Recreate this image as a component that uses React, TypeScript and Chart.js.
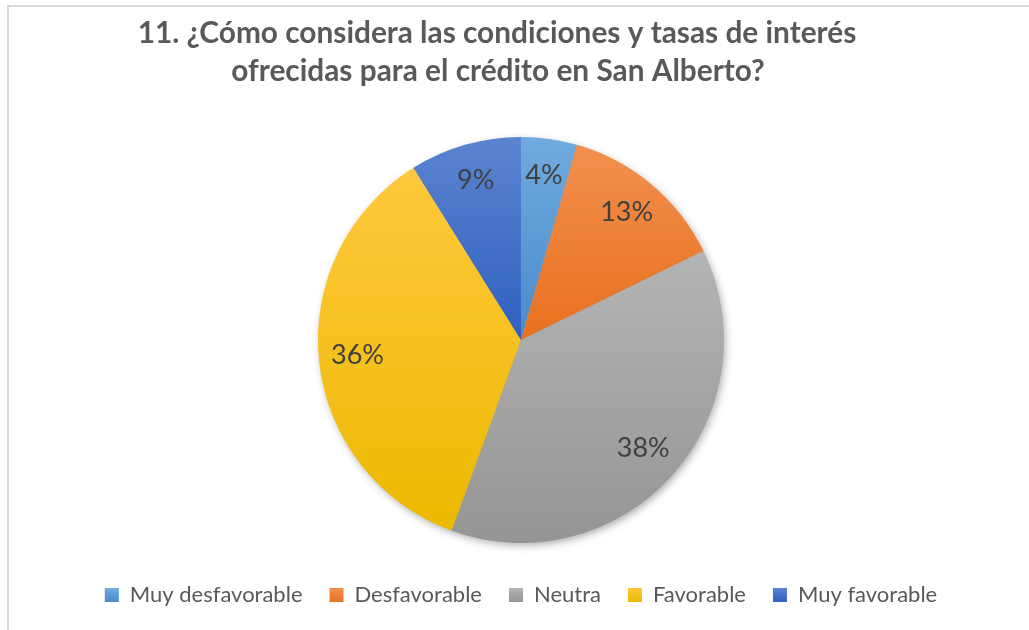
import React, { useEffect, useRef } from "react";
import { Chart, registerables } from "chart.js";

Chart.register(...registerables);

const titleLines = [
  "11. ¿Cómo considera las condiciones y tasas de interés",
  "ofrecidas para el crédito en San Alberto?",
];
const categories = ["Muy desfavorable", "Desfavorable", "Neutra", "Favorable", "Muy favorable"];
const responses = [2, 6, 17, 16, 4];
const baseColors = ["#5B9BD5", "#ED7D31", "#A5A5A5", "#FFC000", "#4472C4"];
const topColors = ["#70AADF", "#F2904F", "#B4B4B4", "#FFC83D", "#5B84D0"];
const bottomColors = ["#4A8BCB", "#E8701E", "#959595", "#ECB900", "#2F60BF"];

const FONT = "Lato, 'Open Sans', sans-serif";
const TEXT_GREY = "#595959";
const LABEL_GREY = "#404040";

function sliceGradient(chart: any, i: number) {
  const area = chart.chartArea;
  if (!area) return baseColors[i];
  const cx = (area.left + area.right) / 2;
  const cy = (area.top + area.bottom) / 2;
  const r = Math.min(area.width, area.height) / 2;
  const total = responses.reduce((a, b) => a + b, 0);
  let cum = 0;
  for (let k = 0; k < i; k++) cum += responses[k];
  const a0 = -Math.PI / 2 + (2 * Math.PI * cum) / total;
  const a1 = a0 + (2 * Math.PI * responses[i]) / total;
  const ys = [cy, cy + r * Math.sin(a0), cy + r * Math.sin(a1)];
  for (let k = -1; k <= 3; k++) {
    const top = -Math.PI / 2 + 2 * Math.PI * k;
    const bot = Math.PI / 2 + 2 * Math.PI * k;
    if (top >= a0 && top <= a1) ys.push(cy - r);
    if (bot >= a0 && bot <= a1) ys.push(cy + r);
  }
  const minY = Math.min(...ys);
  const maxY = Math.max(...ys);
  const g = chart.ctx.createLinearGradient(0, minY, 0, maxY);
  g.addColorStop(0, topColors[i]);
  g.addColorStop(1, bottomColors[i]);
  return g;
}

function legendBoxGradient(chart: any, i: number) {
  const lg = chart.legend;
  if (!lg || lg.top === undefined) return baseColors[i];
  const y0 = lg.top + 14 + 27 + 11 - 7;
  const g = chart.ctx.createLinearGradient(0, y0, 0, y0 + 14);
  g.addColorStop(0, topColors[i]);
  g.addColorStop(1, bottomColors[i]);
  return g;
}

const titlePlugin = {
  id: "excelTitle",
  afterDraw(chart: any) {
    const ctx = chart.ctx;
    ctx.save();
    ctx.font = `bold 100px ${FONT}`;
    const w = ctx.measureText(titleLines[0]).width;
    const size = (100 * 719) / w;
    ctx.font = `bold ${size}px ${FONT}`;
    ctx.fillStyle = TEXT_GREY;
    ctx.textAlign = "center";
    ctx.textBaseline = "middle";
    ctx.fillText(titleLines[0], 497, 33);
    ctx.fillText(titleLines[1], 498, 71);
    ctx.restore();
  },
};

const shadowPlugin = {
  id: "pieShadow",
  beforeDatasetsDraw(chart: any) {
    const meta = chart.getDatasetMeta(0);
    const arc = meta.data[0];
    if (!arc) return;
    const ctx = chart.ctx;
    ctx.save();
    ctx.shadowColor = "rgba(0,0,0,0.35)";
    ctx.shadowBlur = 8;
    ctx.shadowOffsetX = 2;
    ctx.shadowOffsetY = 3;
    ctx.fillStyle = "#a0a0a0";
    ctx.beginPath();
    ctx.arc(arc.x, arc.y, arc.outerRadius - 1, 0, Math.PI * 2);
    ctx.fill();
    ctx.restore();
  },
};

const labelPlugin = {
  id: "pctLabels",
  afterDatasetsDraw(chart: any) {
    const meta = chart.getDatasetMeta(0);
    const total = responses.reduce((a, b) => a + b, 0);
    const ctx = chart.ctx;
    ctx.save();
    ctx.font = `27px ${FONT}`;
    ctx.fillStyle = LABEL_GREY;
    ctx.textAlign = "center";
    ctx.textBaseline = "middle";
    meta.data.forEach((el: any, i: number) => {
      const mid = (el.startAngle + el.endAngle) / 2;
      const r = el.outerRadius * 0.81;
      const x = el.x + Math.cos(mid) * r;
      const y = el.y + Math.sin(mid) * r - 2;
      ctx.fillText(Math.round((responses[i] / total) * 100) + "%", x, y);
    });
    ctx.restore();
  },
};

export default function App() {
  const ref = useRef<HTMLCanvasElement | null>(null);
  useEffect(() => {
    document.body.style.margin = "0";
    const canvas = ref.current;
    if (!canvas) return;
    const chart = new Chart(canvas, {
      type: "pie",
      data: {
        labels: categories,
        datasets: [
          {
            data: responses,
            backgroundColor: (c: any) =>
              c.dataIndex === undefined ? baseColors[0] : sliceGradient(c.chart, c.dataIndex),
            borderWidth: 0,
            hoverOffset: 0,
            offset: 0,
          },
        ],
      },
      options: {
        animation: false,
        responsive: false,
        events: [],
        layout: { padding: { top: 137, left: 13, right: 0, bottom: 14 } },
        plugins: {
          title: { display: false },
          tooltip: { enabled: false },
          legend: {
            position: "bottom",
            title: { display: true, text: "", font: { size: 10 }, padding: { top: 2, bottom: 0 } },
            labels: {
              boxWidth: 14,
              boxHeight: 14,
              padding: 27,
              color: TEXT_GREY,
              font: { family: FONT, size: 22 },
              generateLabels: (chart: any) =>
                categories.map((t, i) => ({
                  text: t,
                  fillStyle: legendBoxGradient(chart, i),
                  strokeStyle: "rgba(0,0,0,0)",
                  lineWidth: 0,
                  fontColor: TEXT_GREY,
                  hidden: false,
                  index: i,
                })),
            },
          },
        },
      },
      plugins: [shadowPlugin, labelPlugin, titlePlugin],
    });
    return () => chart.destroy();
  }, []);

  return (
    <div style={{ position: "fixed", left: 0, top: 0, width: 1029, height: 630, background: "#fff", overflow: "hidden" }}>
      <div
        style={{
          position: "absolute",
          left: 7,
          top: 5,
          width: 1100,
          height: 700,
          borderLeft: "2px solid #d9d9d9",
          borderTop: "2px solid #d9d9d9",
        }}
      />
      <canvas ref={ref} width={1029} height={630} style={{ position: "absolute", left: 0, top: 0 }} />
    </div>
  );
}
